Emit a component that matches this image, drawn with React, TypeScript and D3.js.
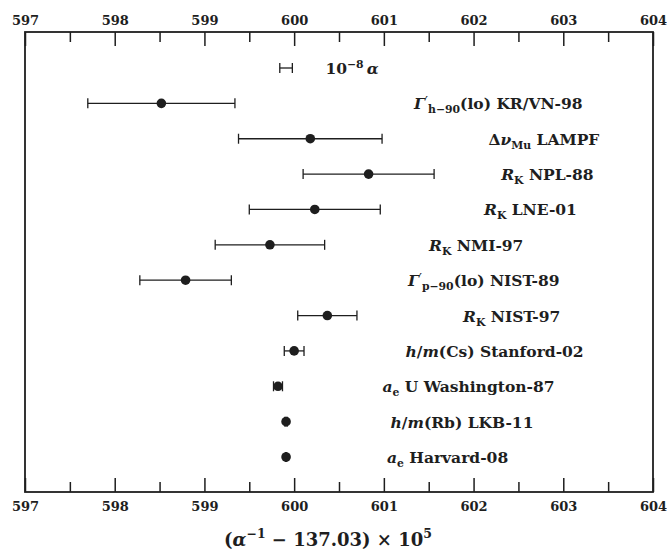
import React, { useEffect, useRef } from 'react';
import * as d3 from 'd3';

// one row per determination, top to bottom (first row is the 10^-8 scale bar)
const rowKeys = ['scale', 'KR/VN-98', 'LAMPF', 'NPL-88', 'LNE-01', 'NMI-97', 'NIST-89', 'NIST-97', 'Stanford-02', 'U Washington-87', 'LKB-11', 'Harvard-08'];

// (alpha^-1 - 137.03) x 10^5
const scaleCenter = 599.91;
const scaleHalfWidth = 0.07;
const values = [598.52, 600.18, 600.83, 600.23, 599.73, 598.79, 600.37, 600.0, 599.82, 599.91, 599.91];
const uncertainties = [0.82, 0.8, 0.73, 0.73, 0.61, 0.51, 0.33, 0.11, 0.05, 0.012, 0.006];

// label text pieces: [text, kind]  kind: r roman, i italic, sub, sup, prime
type Seg = [string, string];
const labels: Seg[][] = [
  [['10', 'r'], ['\u22128', 'sup'], ['\u2009\u03B1', 'i']],
  [['\u0393', 'i'], ['\u2032', 'prime'], ['h\u221290', 'sub'], ['(lo) KR/VN-98', 'r']],
  [['\u0394', 'r'], ['\u03BD', 'i'], ['Mu', 'sub'], [' LAMPF', 'r']],
  [['R', 'i'], ['K', 'sub'], [' NPL-88', 'r']],
  [['R', 'i'], ['K', 'sub'], [' LNE-01', 'r']],
  [['R', 'i'], ['K', 'sub'], [' NMI-97', 'r']],
  [['\u0393', 'i'], ['\u2032', 'prime'], ['p\u221290', 'sub'], ['(lo) NIST-89', 'r']],
  [['R', 'i'], ['K', 'sub'], [' NIST-97', 'r']],
  [['h', 'i'], ['/', 'r'], ['m', 'i'], ['(Cs) Stanford-02', 'r']],
  [['a', 'i'], ['e', 'sub'], [' U Washington-87', 'r']],
  [['h', 'i'], ['/', 'r'], ['m', 'i'], ['(Rb) LKB-11', 'r']],
  [['a', 'i'], ['e', 'sub'], [' Harvard-08', 'r']],
];
// where each label is centred, in axis units
const labelAt = [600.645, 602.276, 602.784, 602.823, 602.634, 602.03, 602.113, 602.425, 602.234, 601.943, 601.871, 601.71];

const majorTicks = [597, 598, 599, 600, 601, 602, 603, 604];
const minorTicks = [597.5, 598.5, 599.5, 600.5, 601.5, 602.5, 603.5];

const INK = '#1e1e1e';
const FONT = '"DejaVu Serif", serif';

const App = () => {
  const svgRef = useRef<SVGSVGElement>(null);

  useEffect(() => {
    const width = 667;
    const height = 552;
    const margin = { top: 32, right: 14, bottom: 60, left: 25 };
    const innerH = height - margin.top - margin.bottom;

    const svg = d3.select(svgRef.current).attr('width', width).attr('height', height);
    svg.selectAll('*').remove();

    const x = d3.scaleLinear().domain([597, 604]).range([margin.left, width - margin.right]);
    const y = d3.scalePoint<string>().domain(rowKeys).range([68, 457]);

    // frame
    svg.append('rect')
      .attr('x', x(597)).attr('y', margin.top)
      .attr('width', x(604) - x(597)).attr('height', innerH)
      .attr('fill', 'none').attr('stroke', INK).attr('stroke-width', 1.8);

    // top axis
    const top = svg.append('g').attr('transform', `translate(0,${margin.top})`);
    top.call(d3.axisTop(x).tickValues(majorTicks).tickSize(-14).tickPadding(7).tickFormat(d3.format('d')));
    top.append('g').call(d3.axisTop(x).tickValues(minorTicks).tickSize(-10).tickFormat(() => ''));

    // bottom axis
    const bottom = svg.append('g').attr('transform', `translate(0,${margin.top + innerH})`);
    bottom.call(d3.axisBottom(x).tickValues(majorTicks).tickSize(-14).tickPadding(10).tickFormat(d3.format('d')));
    bottom.append('g').call(d3.axisBottom(x).tickValues(minorTicks).tickSize(-10).tickFormat(() => ''));

    svg.selectAll('.domain').remove();
    svg.selectAll('.tick line').attr('stroke', INK).attr('stroke-width', 1.5);
    svg.selectAll('.tick text')
      .attr('fill', INK).attr('font-family', FONT).attr('font-weight', 'bold').attr('font-size', 13);

    const capH = 5;
    const drawBar = (lo: number, hi: number, yy: number) => {
      const g = svg.append('g').attr('stroke', INK).attr('stroke-width', 1.3);
      g.append('line').attr('x1', x(lo)).attr('x2', x(hi)).attr('y1', yy).attr('y2', yy);
      g.append('line').attr('x1', x(lo)).attr('x2', x(lo)).attr('y1', yy - capH).attr('y2', yy + capH);
      g.append('line').attr('x1', x(hi)).attr('x2', x(hi)).attr('y1', yy - capH).attr('y2', yy + capH);
    };

    // scale bar
    drawBar(scaleCenter - scaleHalfWidth, scaleCenter + scaleHalfWidth, y('scale')!);

    // measurements
    values.forEach((v, i) => {
      const yy = y(rowKeys[i + 1])!;
      drawBar(v - uncertainties[i], v + uncertainties[i], yy);
      svg.append('circle').attr('cx', x(v)).attr('cy', yy).attr('r', 4.8).attr('fill', INK);
    });

    // labels
    const fs = 15.5;
    labels.forEach((segs, i) => {
      const t = svg.append('text')
        .attr('x', x(labelAt[i]))
        .attr('y', y(rowKeys[i])! + 6)
        .attr('text-anchor', 'middle')
        .attr('font-family', FONT).attr('font-weight', 'bold').attr('font-size', fs)
        .attr('fill', INK);
      let shift = 0;
      segs.forEach(([txt, kind]) => {
        const s = t.append('tspan').text(txt);
        let target = 0;
        if (kind === 'sub') target = 4;
        if (kind === 'sup') target = -6;
        if (kind === 'prime') target = -3;
        const dy = target - shift;
        if (dy !== 0) s.attr('dy', dy);
        shift = target;
        if (kind === 'i') s.attr('font-style', 'italic');
        if (kind === 'sub' || kind === 'sup') s.attr('font-size', fs * 0.7);
        if (kind === 'prime') s.attr('font-size', fs * 0.85).attr('font-weight', 'normal');
      });
    });

    // x-axis title
    const title = svg.append('text')
      .attr('x', 328).attr('y', 546)
      .attr('text-anchor', 'middle')
      .attr('font-family', FONT).attr('font-weight', 'bold').attr('font-size', 18)
      .attr('fill', INK);
    title.append('tspan').text('(');
    title.append('tspan').attr('font-style', 'italic').text('\u03B1');
    title.append('tspan').attr('dy', -8).attr('font-size', 12.5).text('\u22121');
    title.append('tspan').attr('dy', 8).text(' \u2212 137.03) \u00D7 10');
    title.append('tspan').attr('dy', -8).attr('font-size', 12.5).text('5');
  }, []);

  return (
    <svg ref={svgRef} width={667} height={552} style={{ position: 'absolute', left: 0, top: 0, background: '#fff' }} />
  );
};

export default App;
